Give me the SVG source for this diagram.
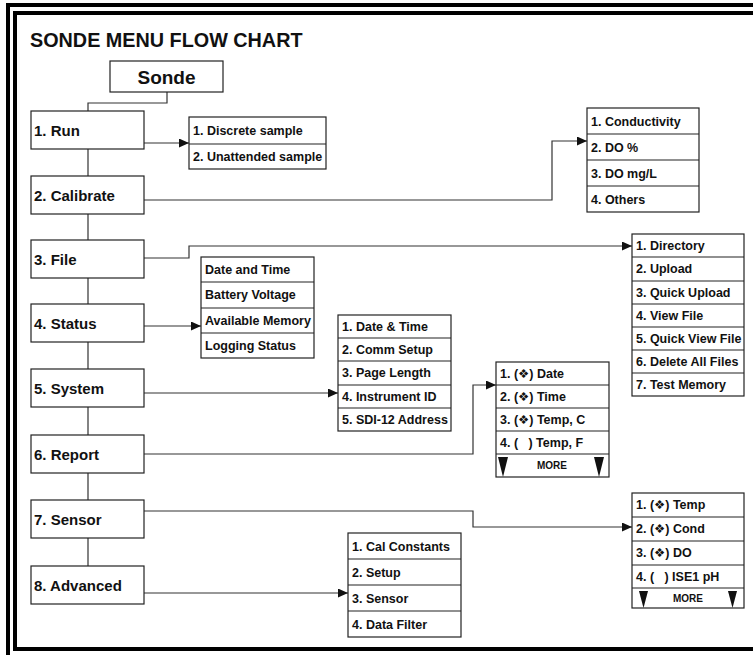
<svg xmlns="http://www.w3.org/2000/svg" width="753" height="655" viewBox="0 0 753 655">
<style>
text{font-family:"Liberation Sans","DejaVu Sans",Arial,sans-serif;font-weight:bold;fill:#111}
.title{font-size:19.8px}
.sonde{font-size:19px}
.main{font-size:15px}
.item{font-size:12.5px;white-space:pre}
.more{font-size:10px;text-anchor:middle}
.box{fill:#fff;stroke:#222;stroke-width:1.2}
.div{stroke:#222;stroke-width:1.2}
.conn{fill:none;stroke:#333;stroke-width:1.2}
.tri{fill:#111}
</style>
<defs>
<marker id="arr" markerUnits="userSpaceOnUse" markerWidth="10" markerHeight="9" refX="10" refY="4.5" orient="auto">
<path d="M0,0 L10,4.5 L0,9 z" fill="#111"/>
</marker>
</defs>
<rect width="753" height="655" fill="#fff"/>
<g id="frame" fill="#000">
<rect x="6" y="3" width="747" height="4"/>
<rect x="6" y="3" width="4" height="652"/>
<rect x="13" y="11" width="740" height="4"/>
<rect x="13" y="11" width="4" height="640"/>
<rect x="13" y="647" width="740" height="4"/>
</g>
<text class="title" x="30" y="47">SONDE MENU FLOW CHART</text>

<g id="connectors">
<path class="conn" d="M167,92 V103 H88 V111"/>
<path class="conn" d="M88,149 V176 M88,214 V240 M88,278 V304 M88,342 V369 M88,407 V435 M88,473 V500 M88,538 V566"/>
<path class="conn" d="M144,143 H189" marker-end="url(#arr)"/>
<path class="conn" d="M144,200 H552 V141 H587" marker-end="url(#arr)"/>
<path class="conn" d="M144,258 H189 V246 H632" marker-end="url(#arr)"/>
<path class="conn" d="M144,326 H201" marker-end="url(#arr)"/>
<path class="conn" d="M144,393 H338" marker-end="url(#arr)"/>
<path class="conn" d="M144,454 H473 V385 H496" marker-end="url(#arr)"/>
<path class="conn" d="M144,511 H473 V527 H632" marker-end="url(#arr)"/>
<path class="conn" d="M144,593 H348" marker-end="url(#arr)"/>
</g>

<g id="sonde">
<rect class="box" x="110" y="61" width="113" height="31"/>
<text class="sonde" x="166.5" y="84" text-anchor="middle">Sonde</text>
</g>

<g id="run"><rect class="box" x="31" y="111" width="113" height="38"/><text class="main" x="34" y="135.5">1. Run</text></g>
<g id="calibrate"><rect class="box" x="31" y="176" width="113" height="38"/><text class="main" x="34" y="200.5">2. Calibrate</text></g>
<g id="file"><rect class="box" x="31" y="240" width="113" height="38"/><text class="main" x="34" y="264.5">3. File</text></g>
<g id="status"><rect class="box" x="31" y="304" width="113" height="38"/><text class="main" x="34" y="328.5">4. Status</text></g>
<g id="system"><rect class="box" x="31" y="369" width="113" height="38"/><text class="main" x="34" y="393.5">5. System</text></g>
<g id="report"><rect class="box" x="31" y="435" width="113" height="38"/><text class="main" x="34" y="459.5">6. Report</text></g>
<g id="sensor"><rect class="box" x="31" y="500" width="113" height="38"/><text class="main" x="34" y="524.5">7. Sensor</text></g>
<g id="advanced"><rect class="box" x="31" y="566" width="113" height="38"/><text class="main" x="34" y="590.5">8. Advanced</text></g>

<g id="run-list">
<rect class="box" x="189" y="117" width="137" height="52"/>
<line class="div" x1="189" y1="144" x2="326" y2="144"/>
<text class="item" x="193" y="134.5">1. Discrete sample</text>
<text class="item" x="193" y="160.5">2. Unattended sample</text>
</g>

<g id="calibrate-list">
<rect class="box" x="587" y="108" width="112" height="104"/>
<path class="div" d="M587,134 H699 M587,160 H699 M587,186 H699"/>
<text class="item" x="591" y="125.5">1. Conductivity</text>
<text class="item" x="591" y="151.5">2. DO %</text>
<text class="item" x="591" y="177.5">3. DO mg/L</text>
<text class="item" x="591" y="203.5">4. Others</text>
</g>

<g id="file-list">
<rect class="box" x="632" y="234" width="112" height="162"/>
<path class="div" d="M632,257 H744 M632,281 H744 M632,304 H744 M632,327 H744 M632,350 H744 M632,373 H744"/>
<text class="item" x="636" y="249.5">1. Directory</text>
<text class="item" x="636" y="273">2. Upload</text>
<text class="item" x="636" y="296.5">3. Quick Upload</text>
<text class="item" x="636" y="319.5">4. View File</text>
<text class="item" x="636" y="342.5">5. Quick View File</text>
<text class="item" x="636" y="365.5">6. Delete All Files</text>
<text class="item" x="636" y="388.5">7. Test Memory</text>
</g>

<g id="status-list">
<rect class="box" x="201" y="257" width="113" height="101"/>
<path class="div" d="M201,282 H314 M201,308 H314 M201,333 H314"/>
<text class="item" x="205" y="273.5">Date and Time</text>
<text class="item" x="205" y="299">Battery Voltage</text>
<text class="item" x="205" y="324.5">Available Memory</text>
<text class="item" x="205" y="349.5">Logging Status</text>
</g>

<g id="system-list">
<rect class="box" x="338" y="315" width="113" height="116"/>
<path class="div" d="M338,338 H451 M338,361 H451 M338,385 H451 M338,408 H451"/>
<text class="item" x="342" y="330.5">1. Date &amp; Time</text>
<text class="item" x="342" y="353.5">2. Comm Setup</text>
<text class="item" x="342" y="377">3. Page Length</text>
<text class="item" x="342" y="400.5">4. Instrument ID</text>
<text class="item" x="342" y="423.5">5. SDI-12 Address</text>
</g>

<g id="report-list">
<rect class="box" x="496" y="362" width="113" height="115"/>
<path class="div" d="M496,385 H609 M496,408 H609 M496,431 H609 M496,454 H609"/>
<text class="item" x="500" y="377.5">1. (❖) Date</text>
<text class="item" x="500" y="400.5">2. (❖) Time</text>
<text class="item" x="500" y="423.5">3. (❖) Temp, C</text>
<text class="item" x="500" y="446.5">4. (   ) Temp, F</text>
<polygon class="tri" points="498,457 508,457 503,477"/>
<polygon class="tri" points="594,457 604,457 599,477"/>
<text class="more" x="552" y="469">MORE</text>
</g>

<g id="sensor-list">
<rect class="box" x="632" y="493" width="112" height="115"/>
<path class="div" d="M632,517 H744 M632,541 H744 M632,565 H744 M632,588 H744"/>
<text class="item" x="636" y="509">1. (❖) Temp</text>
<text class="item" x="636" y="533">2. (❖) Cond</text>
<text class="item" x="636" y="557">3. (❖) DO</text>
<text class="item" x="636" y="580.5">4. (   ) ISE1 pH</text>
<polygon class="tri" points="639,591 648,591 643.5,608"/>
<polygon class="tri" points="728,591 737,591 732.5,608"/>
<text class="more" x="688" y="601.5">MORE</text>
</g>

<g id="advanced-list">
<rect class="box" x="348" y="533" width="113" height="104"/>
<path class="div" d="M348,559 H461 M348,585 H461 M348,611 H461"/>
<text class="item" x="352" y="550.5">1. Cal Constants</text>
<text class="item" x="352" y="576.5">2. Setup</text>
<text class="item" x="352" y="602.5">3. Sensor</text>
<text class="item" x="352" y="628.5">4. Data Filter</text>
</g>
</svg>
